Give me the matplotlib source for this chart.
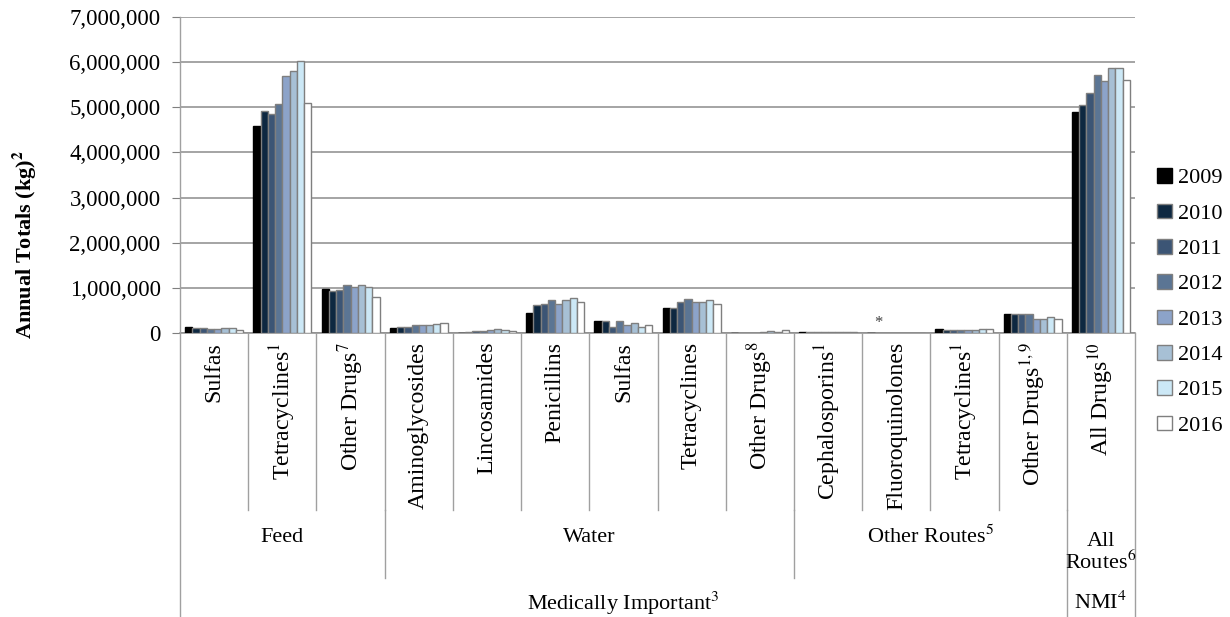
import matplotlib
matplotlib.use("Agg")
import matplotlib.pyplot as plt
import matplotlib.transforms as mtransforms
from matplotlib.lines import Line2D
from matplotlib.ticker import FuncFormatter
import numpy as np

plt.rcParams['font.family'] = ['Liberation Serif', 'DejaVu Serif']
plt.rcParams['mathtext.fontset'] = 'stix'

# categories (drug classes), grouped by route and importance
categories = ['Sulfas', r'Tetracyclines$^{1}$', r'Other Drugs$^{7}$',
              'Aminoglycosides', 'Lincosamides', 'Penicillins', 'Sulfas',
              'Tetracyclines', r'Other Drugs$^{8}$',
              r'Cephalosporins$^{1}$', 'Fluoroquinolones', r'Tetracyclines$^{1}$',
              r'Other Drugs$^{1,9}$', r'All Drugs$^{10}$']
routes = ['Feed', 'Water', r'Other Routes$^{5}$', 'All\n' + r'Routes$^{6}$']
route_sizes = [3, 6, 4, 1]
groups = [r'Medically Important$^{3}$', r'NMI$^{4}$']
group_sizes = [13, 1]

years = ['2009', '2010', '2011', '2012', '2013', '2014', '2015', '2016']

# annual totals (kg), one list per year, in category order
kg_2009 = [125000, 4590000, 980000, 120000, 10000, 440000, 260000, 560000, 5000, 12000, 0, 80000, 410000, 4900000]
kg_2010 = [100000, 4910000, 930000, 140000, 20000, 610000, 260000, 550000, 5000, 12000, 0, 75000, 410000, 5050000]
kg_2011 = [100000, 4850000, 960000, 140000, 45000, 640000, 130000, 690000, 5000, 12000, 0, 75000, 430000, 5320000]
kg_2012 = [90000, 5070000, 1070000, 185000, 45000, 730000, 270000, 760000, 10000, 12000, 0, 70000, 410000, 5720000]
kg_2013 = [85000, 5700000, 1030000, 185000, 75000, 640000, 180000, 690000, 15000, 14000, 10000, 75000, 310000, 5590000]
kg_2014 = [105000, 5810000, 1060000, 185000, 95000, 720000, 230000, 690000, 45000, 14000, 10000, 70000, 310000, 5880000]
kg_2015 = [110000, 6020000, 1010000, 210000, 70000, 780000, 130000, 740000, 30000, 14000, 10000, 80000, 350000, 5870000]
kg_2016 = [75000, 5100000, 800000, 220000, 40000, 690000, 185000, 650000, 60000, 14000, 10000, 90000, 300000, 5610000]
series = [kg_2009, kg_2010, kg_2011, kg_2012, kg_2013, kg_2014, kg_2015, kg_2016]

colors = ['#000000', '#0E2841', '#3C5575', '#5B7594', '#8CA3C9', '#A7C0D5', '#CCE8F6', '#FFFFFF']
edges = ['#000000'] + ['#7F7F7F'] * 7

W, H = 1230, 617
fig = plt.figure(figsize=(W / 100, H / 100), dpi=100)
ax = fig.add_axes([180 / W, 1 - 333 / H, (1135 - 180) / W, (333 - 17) / H])

n = len(series)
bw = 0.85 / n
x = np.arange(len(categories))
for j, (vals, c, ec) in enumerate(zip(series, colors, edges)):
    ax.bar(x + (j - (n - 1) / 2) * bw, vals, width=bw, color=c, edgecolor=ec,
           linewidth=1.0, label=years[j], zorder=3)

ax.set_xlim(-0.5, len(categories) - 0.5)
ax.set_ylim(0, 7000000)
ax.set_yticks(np.arange(0, 7000001, 1000000))
ax.yaxis.set_major_formatter(FuncFormatter(lambda v, p: f'{int(v):,}'))
ax.tick_params(axis='y', labelsize=16.5, length=6, color='#7F7F7F', pad=8)
ax.set_xticks([])
ax.grid(axis='y', color='#8C8C8C', linewidth=1.1, zorder=0)
for s in ['top', 'right']:
    ax.spines[s].set_visible(False)
ax.spines['left'].set_visible(False)
ax.spines['bottom'].set_color('#8C8C8C')
ax.spines['bottom'].set_linewidth(1.1)

# asterisk over fluoroquinolones (not reported early years)
ax.text(10 + (1 - (n - 1) / 2) * bw, 40000, '*', ha='center', va='bottom',
        fontsize=12, color='#404040')

# multi-level category table below the axis
tr = mtransforms.blended_transform_factory(ax.transData, fig.transFigure)
def fy(py):
    return 1 - py / H

line_kw = dict(color='#A0A0A0', linewidth=1.0, transform=tr, clip_on=False)
fig.add_artist(Line2D([-0.5, -0.5], [fy(17), fy(617)], **line_kw))
fig.add_artist(Line2D([13.5, 13.5], [fy(333), fy(617)], **line_kw))
for k in range(1, len(categories)):
    fig.add_artist(Line2D([k - 0.5, k - 0.5], [fy(333), fy(510)], **line_kw))
edges_r = np.cumsum(route_sizes)[:-1]
for e in edges_r:
    bottom = 617 if e == 13 else 578
    fig.add_artist(Line2D([e - 0.5, e - 0.5], [fy(510), fy(bottom)], **line_kw))

for i, lab in enumerate(categories):
    fig.text(i, fy(342), lab, rotation=90, ha='center', va='top',
             fontsize=17.2, transform=tr)

start = 0
for lab, sz in zip(routes, route_sizes):
    cx = start + (sz - 1) / 2
    if sz == 1:
        fig.text(cx, fy(553), lab, ha='center', va='center', fontsize=16,
                 transform=tr, linespacing=1.0)
    else:
        fig.text(cx, fy(537), lab, ha='center', va='center', fontsize=16, transform=tr)
    start += sz

start = 0
for lab, sz in zip(groups, group_sizes):
    cx = start + (sz - 1) / 2
    fig.text(cx, fy(603), lab, ha='center', va='center', fontsize=16, transform=tr)
    start += sz

fig.text(25 / W, fy(244), r'Annual Totals (kg)$^{\mathbf{2}}$', rotation=90,
         ha='center', va='center', fontsize=16, fontweight='bold')

fig.legend(loc='center left', bbox_to_anchor=(1146 / W, fy(302)), frameon=False,
           fontsize=16, handlelength=0.65, handleheight=0.65, handletextpad=0.3,
           labelspacing=0.68, borderpad=0)

fig.savefig('out.png', dpi=100)
